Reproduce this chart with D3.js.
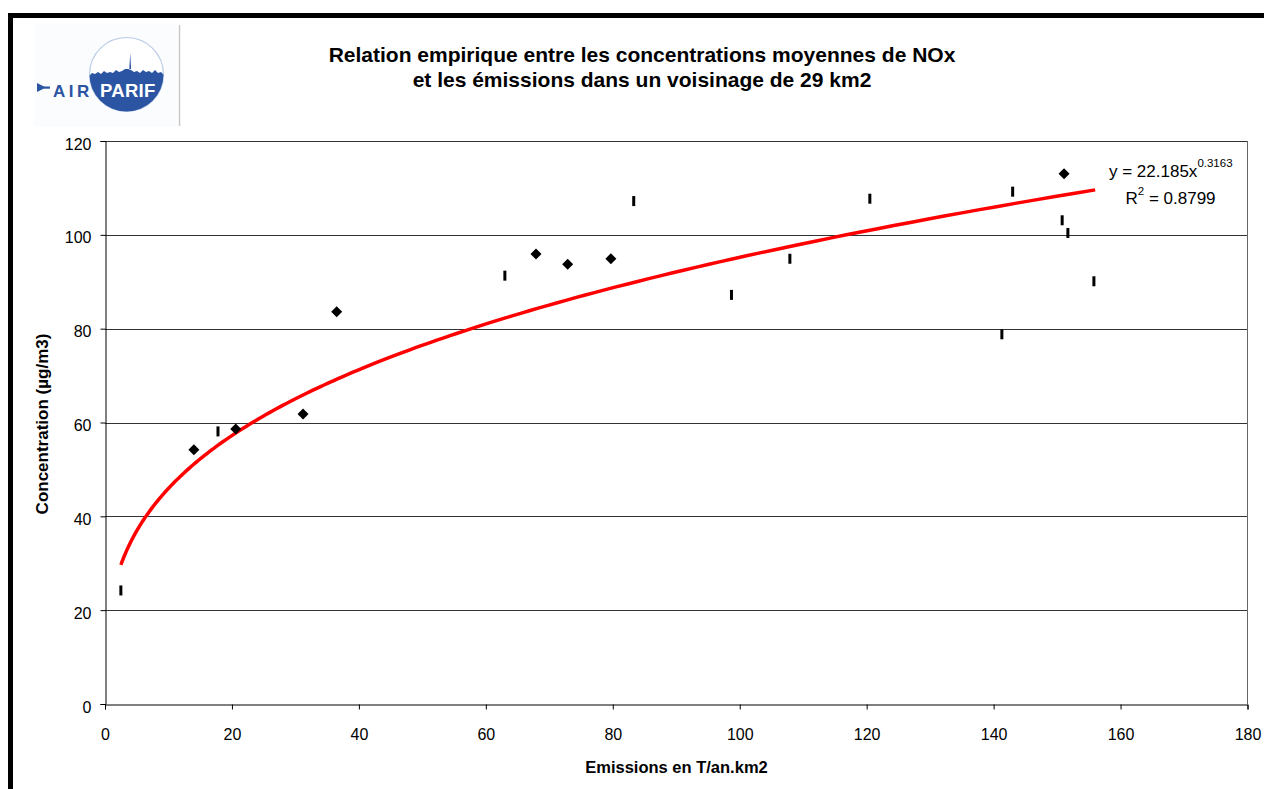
<!DOCTYPE html>
<html><head><meta charset="utf-8">
<script src="https://cdn.jsdelivr.net/npm/d3@7"></script>
<style>body{margin:0;background:#fff;overflow:hidden}svg{display:block}text{font-family:"Liberation Sans",Arial,sans-serif}</style>
</head><body>
<svg id="c" width="1264" height="789"></svg>
<script>
const titleLines = ["Relation empirique entre les concentrations moyennes de NOx", "et les émissions dans un voisinage de 29 km2"];
const xLabel = "Emissions en T/an.km2";
const yLabel = "Concentration (µg/m3)";
const xTicks = [0,20,40,60,80,100,120,140,160,180];
const yTicks = [0,20,40,60,80,100,120];
// diamond series
const diamondX = [14.0, 20.6, 31.2, 36.5, 67.9, 72.9, 79.7, 151.1];
const diamondY = [54.2, 58.6, 61.8, 83.6, 95.9, 93.75, 94.9, 113.0];
// dash series
const dashX = [2.5, 17.8, 63.0, 83.3, 98.7, 107.9, 120.5, 141.3, 143.0, 150.8, 151.7, 155.8];
const dashY = [24.2, 58.1, 91.3, 107.2, 87.2, 94.9, 107.7, 78.8, 109.2, 103.1, 100.4, 90.1];
// power trendline y = a * x^b (from the chart's equation)
const trendA = 22.185, trendB = 0.3163, trendXmin = 2.5, trendXmax = 156;
const eqText = "y = 22.185x", eqExp = "0.3163", r2Text = " = 0.8799";

(function(){
const svg = d3.select("#c");
// outer frame
svg.append("rect").attr("x",10.5).attr("y",15.5).attr("width",1264).attr("height",800)
  .attr("fill","none").attr("stroke","#000").attr("stroke-width",5);

// logo
const logo = svg.append("g");
logo.append("rect").attr("x",34).attr("y",24).attr("width",143).attr("height",103).attr("fill","#fbfcfe");
logo.append("line").attr("x1",179.5).attr("x2",179.5).attr("y1",25).attr("y2",126).attr("stroke","#c8c8c8").attr("stroke-width",1.5);
const cx=126.5, cy=74.5, r=37;
logo.append("circle").attr("cx",cx).attr("cy",cy).attr("r",r).attr("fill","#fff").attr("stroke","#b9cbe6").attr("stroke-width",1.2);
logo.append("clipPath").attr("id","cl").append("circle").attr("cx",cx).attr("cy",cy).attr("r",r);
const sky = [[89,76],[92,73],[95,74],[98,72],[101,74],[104,71],[107,73],[110,72],[113,73],[116,70],[119,72],[122,71],[125,69],[128,69],[131,70],[134,72],[137,71],[140,73],[143,70],[146,72],[149,71],[152,73],[155,70],[158,73],[161,72],[164,75],[164,120],[89,120]];
logo.append("path").attr("clip-path","url(#cl)").attr("d","M"+sky.map(p=>p.join(",")).join("L")+"Z").attr("fill","#2b55a3");
logo.append("path").attr("d","M129.3,69 L130.2,53 L131.1,69 Z").attr("fill","#2b55a3");
logo.append("path").attr("d","M37,83 L46,87.5 L37,92 Z").attr("fill","#2b55a3");
logo.append("rect").attr("x",44).attr("y",86.5).attr("width",6).attr("height",2.2).attr("fill","#2b55a3");
logo.append("text").attr("x",53).attr("y",96.5).attr("font-size",17).attr("font-weight","bold").attr("fill","#2b55a3").attr("letter-spacing",3.5).text("AIR");
logo.append("text").attr("x",100).attr("y",96.5).attr("font-size",18.5).attr("font-weight","bold").attr("fill","#fff").attr("letter-spacing",0.3).text("PARIF");

// title
svg.append("g").selectAll("text").data(titleLines).join("text")
  .attr("x",642).attr("y",(d,i)=>61.5+i*25).attr("text-anchor","middle")
  .attr("font-size",21).attr("font-weight","bold").attr("fill","#000").text(d=>d);

const pL=105, pR=1247.5, pT=141, pB=704;
const x = d3.scaleLinear().domain([0,180]).range([pL,pR]);
const y = d3.scaleLinear().domain([0,120]).range([pB,pT]);

// gridlines
svg.append("g").selectAll("line").data(yTicks.filter(t=>t>0&&t<120)).join("line")
  .attr("x1",pL).attr("x2",pR).attr("y1",d=>Math.round(y(d))+0.5).attr("y2",d=>Math.round(y(d))+0.5)
  .attr("stroke","#333").attr("stroke-width",1);
// plot border top/right
svg.append("line").attr("x1",pL).attr("x2",pR).attr("y1",pT+0.5).attr("y2",pT+0.5).attr("stroke","#333");
svg.append("line").attr("x1",pR).attr("x2",pR).attr("y1",pT).attr("y2",pB).attr("stroke","#666");

// axes
const xAxis = svg.append("g").attr("transform",`translate(0,${pB+0.5})`)
  .call(d3.axisBottom(x).tickValues(xTicks).tickSize(5).tickPadding(19).tickFormat(d3.format("d")));
const yAxis = svg.append("g").attr("transform",`translate(${pL+0.5},0)`)
  .call(d3.axisLeft(y).tickValues(yTicks).tickSize(5).tickPadding(9).tickFormat(d3.format("d")));
[xAxis,yAxis].forEach(a=>{a.attr("font-size",16).attr("font-family",null);
  a.selectAll("text").attr("fill","#000");
  a.select(".domain").attr("stroke","#000"); a.selectAll(".tick line").attr("stroke","#000");});
yAxis.selectAll(".tick text").attr("dy","0.5em");

// axis labels
svg.append("text").attr("x",676.5).attr("y",772.5).attr("text-anchor","middle").attr("font-size",16.5).attr("font-weight","bold").text(xLabel);
svg.append("text").attr("transform","translate(48,424) rotate(-90)").attr("text-anchor","middle").attr("font-size",17).attr("font-weight","bold").text(yLabel);

// trendline
const tx = d3.range(0,201).map(i=>trendXmin*Math.pow(trendXmax/trendXmin,i/200));
const line = d3.line().x(d=>x(d)).y(d=>y(trendA*Math.pow(d,trendB)));
svg.append("path").datum(tx).attr("d",line).attr("fill","none").attr("stroke","#ff0000").attr("stroke-width",3.5);

// dash markers
svg.append("g").selectAll("rect").data(dashX.map((d,i)=>[d,dashY[i]])).join("rect")
  .attr("x",d=>x(d[0])-1.5).attr("y",d=>y(d[1])-5).attr("width",3).attr("height",10).attr("fill","#000");
// diamond markers
svg.append("g").selectAll("path").data(diamondX.map((d,i)=>[d,diamondY[i]])).join("path")
  .attr("d",d=>{const px=x(d[0]),py=y(d[1]),s=5.5;return `M${px},${py-s}L${px+s},${py}L${px},${py+s}L${px-s},${py}Z`;})
  .attr("fill","#000");

// equation
const eq = svg.append("text").attr("x",1109).attr("y",177).attr("font-size",17);
eq.append("tspan").text(eqText);
eq.append("tspan").attr("dy",-10).attr("font-size",11.5).text(eqExp);
const r2 = svg.append("text").attr("x",1125.5).attr("y",204).attr("font-size",17);
r2.append("tspan").text("R");
r2.append("tspan").attr("dy",-9).attr("font-size",11.5).text("2");
r2.append("tspan").attr("dy",9).text(r2Text);
})();
</script>
</body></html>
